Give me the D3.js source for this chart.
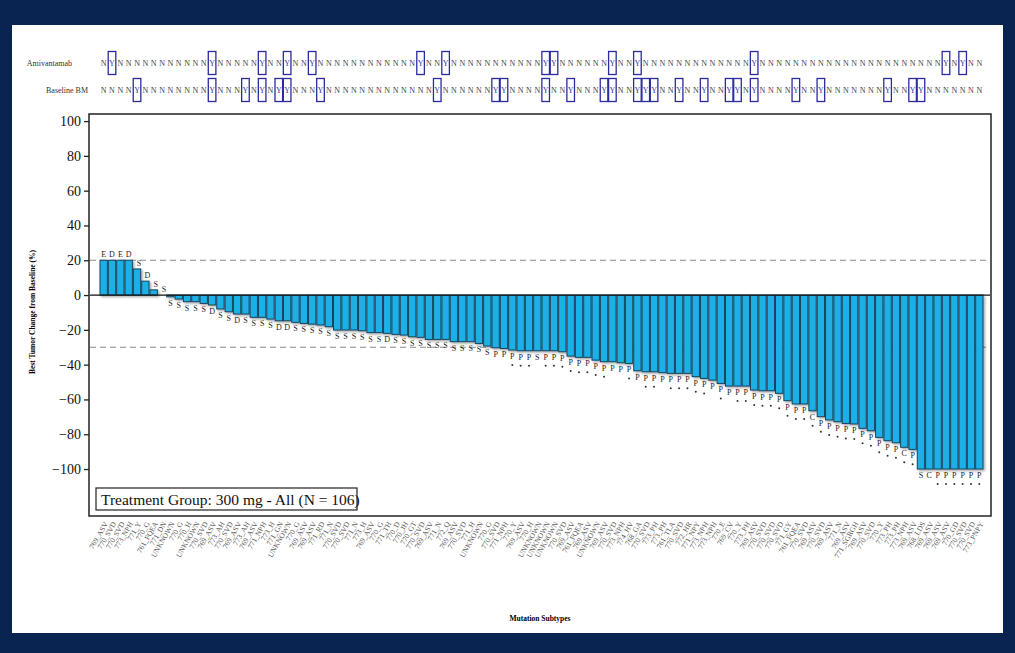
<!DOCTYPE html>
<html>
<head>
<meta charset="utf-8">
<script src="https://cdn.jsdelivr.net/npm/d3@7"></script>
<style>
  body { margin: 0; background: #0a2452; }
  svg { display: block; }
</style>
</head>
<body>
<svg width="1015" height="653"></svg>
<script>
// best % change per patient, sorted as in the waterfall
let values = [20, 20, 20, 20, 15, 8, 3, 0,
  -1, -2.3, -3.8, -3.8, -4.8, -5.7, -8, -9.6, -10.9, -10.9, -12.8, -12.8, -13.8, -14.8, -14.8,
  -15.7, -16.3, -16.7, -17.2, -18.2, -20.1, -20.1, -20.1, -20.5, -21.6, -21.6, -22,
  -22.6, -23, -24, -24.3, -25.5, -25.5, -25.5, -26.8, -26.8, -26.8, -27.8, -29.3, -30.3, -30.7,
  -31.6, -32, -32, -32, -32, -32, -32.6, -35.1, -35.8, -35.8, -37.4, -38.3, -38.3, -38.9, -39.3,
  -43.5, -44.1, -44.1, -44.6, -45, -45, -45, -46.9, -47.9, -48.9, -50.8, -52.3, -52.3, -52.3,
  -54.6, -55, -55, -56.5, -60.7, -62.6, -62.6, -66.5, -69.9, -71.8, -72.8, -73.8, -74.1,
  -76.6, -78, -81.8, -83.7, -84.9, -87.5, -88.7,
  -100, -100, -100, -100, -100, -100, -100, -100]

// best response letter, "*" = confirmed
let responses = ["E", "D", "E", "D", "S", "D", "S", "S",
  "S", "S", "S", "S", "S", "D", "S", "S", "D", "S", "S", "S", "S", "D", "D",
  "S", "S", "S", "S", "S", "S", "S", "S", "S", "S", "S", "D",
  "S", "S", "S", "S", "S", "S", "S", "S", "S", "S", "S", "S", "P", "P",
  "P*", "P*", "P*", "S", "P*", "P*", "P*", "P*", "P*", "P*", "P*", "P*", "P", "P", "P*",
  "P", "P*", "P*", "P", "P*", "P*", "P*", "P*", "P*", "P", "P*", "P", "P*", "P*",
  "P*", "P*", "P*", "P*", "P*", "P*", "P*", "C*", "P*", "P*", "P*", "P*", "P*",
  "P*", "P*", "P*", "P*", "P*", "C*", "P*",
  "S", "C", "P*", "P*", "P*", "P*", "P*", "P*"]

let subtypes = ["769_ASV", "770_SVD", "770_SVD", "773_NPH", "771_Y", "770_G", "761_FQEA", "771_DN",
  "UNKNOWN", "770_G", "770_H", "UNKNOWN", "770_SVD", "769_ASV", "773_AH", "770_SVD", "769_ASV",
  "773_AH", "769_ASV", "771_NPH", "773_H", "771_GN", "UNKNOWN", "770_G", "769_ASV", "769_ASV",
  "771_RD", "771_N", "770_SVD", "770_SVD", "771_N", "773_H", "769_ASV", "770_G", "771_TH",
  "770_D", "770_JH", "770_GT", "770_SVD", "769_ASV", "771_N", "772_Q", "769_ASV", "770_SVD",
  "771_H", "UNKNOWN", "770_G", "770_SVD", "771_NPH", "770_Y", "769_ASV", "770_H", "UNKNOWN",
  "UNKNOWN", "UNKNOWN", "770_SVD", "769_ASV", "761_FQEA", "769_ASV", "UNKNOWN", "769_ASV",
  "770_SVD", "773_NPH", "774_HV", "768_GA", "770_SVD", "773_PH", "773_PH", "761_TLA", "770_SVD",
  "772_HR", "771_NPY", "773_NPH", "773_NPH", "770_E", "769_CV", "770_Y", "773_PH", "769_ASV",
  "770_SVD", "770_SVD", "770_SVD", "771_GY", "761_FQEA", "770_SVD", "769_ASV", "770_SVD",
  "769_ASV", "771_N", "769_ASV", "771_SGRGH", "769_ASV", "770_SVD", "770_Y", "773_PH", "773_PH",
  "773_NPH", "769_ASV", "768_LDS", "769_ASV", "769_ASV", "769_ASV", "770_GD", "770_SVD",
  "770_SVD", "773_PNPY"]

// patients marked "Y" in the two annotation rows (bar index)
let amivantamabYes = [1, 13, 19, 22, 25, 38, 41, 53, 54, 61, 64, 78, 101, 103]
let baselineBmYes = [4, 13, 17, 19, 21, 22, 26, 40, 47, 48, 53, 56, 60, 61, 64, 65, 66,
  69, 72, 75, 76, 78, 83, 86, 94, 97, 98]

let yTicks = [-100, -80, -60, -40, -20, 0, 20, 40, 60, 80, 100]
let refLines = [20, -30]

let svg = d3.select("svg")
let serif = "'Liberation Serif', 'DejaVu Serif', serif"

svg.append("rect")
  .attr("x", 12).attr("y", 25)
  .attr("width", 991).attr("height", 608)
  .style("fill", "white")

let x = d3.scaleBand()
  .domain(d3.range(values.length))
  .range([100, 983])
  .paddingInner(0.12)
  .paddingOuter(0)

let y = d3.scaleLinear()
  .domain([-127, 103.5])
  .range([516, 115])

let defs = svg.append("defs")
let shadow = defs.append("filter").attr("id", "shadow")
  .attr("x", "-20%").attr("y", "-5%").attr("width", "160%").attr("height", "115%")
shadow.append("feDropShadow")
  .attr("dx", 1.5).attr("dy", 1.5).attr("stdDeviation", 1.2)
  .attr("flood-color", "#000").attr("flood-opacity", 0.35)

// frame
svg.append("rect")
  .attr("x", 89).attr("y", 114)
  .attr("width", 902).attr("height", 402)
  .style("fill", "none")
  .style("stroke", "#222")
  .style("stroke-width", 1.5)

// reference lines
svg.selectAll(".ref")
  .data(refLines)
  .join("line")
  .attr("x1", 90).attr("x2", 990)
  .attr("y1", d => y(d)).attr("y2", d => y(d))
  .style("stroke", "#888")
  .style("stroke-width", 1)
  .style("stroke-dasharray", "6,4")

// bars
svg.append("g")
  .attr("filter", "url(#shadow)")
  .selectAll("rect")
  .data(values)
  .join("rect")
  .attr("x", (d, i) => x(i))
  .attr("y", d => y(Math.max(0, d)))
  .attr("width", x.bandwidth())
  .attr("height", d => Math.abs(y(d) - y(0)))
  .style("fill", "#1cb0e6")
  .style("stroke", "#17445e")
  .style("stroke-width", 1)

// zero line
svg.append("line")
  .attr("x1", 90).attr("x2", 990)
  .attr("y1", y(0)).attr("y2", y(0))
  .style("stroke", "#111")
  .style("stroke-width", 1.3)

// response letters
let resp = svg.append("g")
  .style("font-family", serif)
  .style("font-size", "8px")
  .style("fill", "#222")
  .attr("text-anchor", "middle")

values.forEach((v, i) => {
  let cx = x(i) + x.bandwidth() / 2
  let letter = responses[i].replace("*", "")
  if (v >= 0) {
    resp.append("text").attr("x", cx + (v < 20 ? 2 : 0)).attr("y", y(v) - 3).text(letter)
  } else {
    resp.append("text").attr("x", cx).attr("y", y(v) + 9).text(letter)
    if (responses[i].includes("*")) {
      resp.append("circle").attr("cx", cx).attr("cy", y(v) + 15).attr("r", 1).style("fill", "#333")
    }
  }
})

// y axis
let yAxis = svg.append("g")
  .attr("transform", "translate(89,0)")
  .call(d3.axisLeft(y).tickValues(yTicks).tickSize(5).tickPadding(3))
yAxis.select(".domain").remove()
yAxis.selectAll("line").style("stroke", "#222").style("stroke-width", 1.3)
yAxis.selectAll("text")
  .style("font-family", serif)
  .style("font-size", "14px")
  .style("fill", "#111")

// x tick labels
let xAxis = svg.append("g")
  .attr("transform", "translate(0,516)")
  .call(d3.axisBottom(x).tickSize(0).tickFormat(i => subtypes[i]))
xAxis.select(".domain").remove()
xAxis.selectAll("text")
  .attr("text-anchor", "end")
  .attr("transform", "translate(0,5) rotate(-60)")
  .attr("dx", 0).attr("dy", "0.3em")
  .style("font-family", serif)
  .style("font-size", "7.5px")
  .style("fill", "#555")

// axis titles
svg.append("text")
  .attr("transform", "translate(35,312) rotate(-90)")
  .attr("text-anchor", "middle")
  .style("font-family", serif)
  .style("font-size", "7.5px")
  .style("font-weight", "bold")
  .text("Best Tumor Change from Baseline (%)")

svg.append("text")
  .attr("x", 540).attr("y", 621)
  .attr("text-anchor", "middle")
  .style("font-family", serif)
  .style("font-size", "7.5px")
  .style("font-weight", "bold")
  .text("Mutation Subtypes")

// treatment group box
svg.append("rect")
  .attr("x", 96).attr("y", 488)
  .attr("width", 261).attr("height", 22)
  .style("fill", "white")
  .style("stroke", "#222")
  .style("stroke-width", 1.2)
svg.append("text")
  .attr("x", 101).attr("y", 505)
  .style("font-family", serif)
  .style("font-size", "15.5px")
  .style("fill", "#111")
  .text("Treatment Group: 300 mg - All (N = 106)")

// annotation rows
let rows = [
  { name: "Amivantamab", yes: amivantamabYes, y: 63, nameX: 72 },
  { name: "Baseline BM", yes: baselineBmYes, y: 90, nameX: 88 }
]
rows.forEach(r => {
  svg.append("text")
    .attr("x", r.nameX).attr("y", r.y + 3)
    .attr("text-anchor", "end")
    .style("font-family", serif)
    .style("font-size", "8px")
    .style("fill", "#333")
    .text(r.name)
  let g = svg.append("g")
  values.forEach((v, i) => {
    let cx = x(i) + x.bandwidth() / 2
    let isYes = r.yes.includes(i)
    g.append("text")
      .attr("x", cx).attr("y", r.y + 3)
      .attr("text-anchor", "middle")
      .style("font-family", serif)
      .style("font-size", "8px")
      .style("fill", isYes ? "#3a3aa8" : "#444")
      .text(isYes ? "Y" : "N")
    if (isYes) {
      g.append("rect")
        .attr("x", cx - 3.8).attr("y", r.y - 11.5)
        .attr("width", 7.6).attr("height", 23)
        .style("fill", "none")
        .style("stroke", "#2b2b9c")
        .style("stroke-width", 1.3)
    }
  })
})
</script>
</body>
</html>
